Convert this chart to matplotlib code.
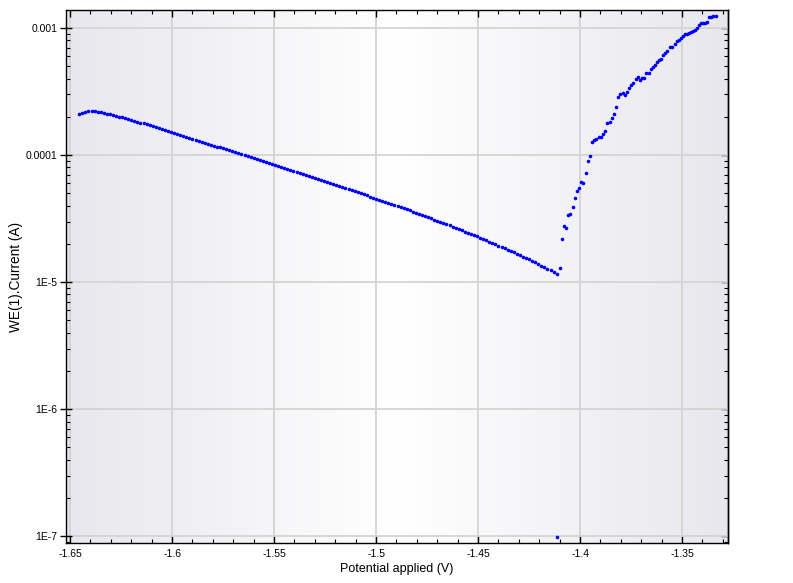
import numpy as np
import matplotlib
matplotlib.use("Agg")
import matplotlib.pyplot as plt
from matplotlib.ticker import FixedLocator, FixedFormatter, LogLocator, MultipleLocator, NullFormatter

# ---------------- data ----------------
cathodic_potential = [
    -1.6455, -1.6440, -1.6425, -1.6410, -1.6395, -1.6380, -1.6365, -1.6350, -1.6335, -1.6320,
    -1.6305, -1.6290, -1.6275, -1.6260, -1.6245, -1.6230, -1.6215, -1.6200, -1.6185, -1.6170,
    -1.6155, -1.6140, -1.6125, -1.6110, -1.6095, -1.6080, -1.6065, -1.6050, -1.6035, -1.6020,
    -1.6005, -1.5990, -1.5975, -1.5960, -1.5945, -1.5930, -1.5915, -1.5900, -1.5885, -1.5870,
    -1.5855, -1.5840, -1.5825, -1.5810, -1.5795, -1.5780, -1.5765, -1.5750, -1.5735, -1.5720,
    -1.5705, -1.5690, -1.5675, -1.5660, -1.5645, -1.5630, -1.5615, -1.5600, -1.5585, -1.5570,
    -1.5555, -1.5540, -1.5525, -1.5510, -1.5495, -1.5480, -1.5465, -1.5450, -1.5435, -1.5420,
    -1.5405, -1.5390, -1.5375, -1.5360, -1.5345, -1.5330, -1.5315, -1.5300, -1.5285, -1.5270,
    -1.5255, -1.5240, -1.5225, -1.5210, -1.5195, -1.5180, -1.5165, -1.5150, -1.5135, -1.5120,
    -1.5105, -1.5090, -1.5075, -1.5060, -1.5045, -1.5030, -1.5015, -1.5000, -1.4985, -1.4970,
    -1.4955, -1.4940, -1.4925, -1.4910, -1.4895, -1.4880, -1.4865, -1.4850, -1.4835, -1.4820,
    -1.4805, -1.4790, -1.4775, -1.4760, -1.4745, -1.4730, -1.4715, -1.4700, -1.4685, -1.4670,
    -1.4655, -1.4640, -1.4625, -1.4610, -1.4595, -1.4580, -1.4565, -1.4550, -1.4535, -1.4520,
    -1.4505, -1.4490, -1.4475, -1.4460, -1.4445, -1.4430, -1.4415, -1.4400, -1.4385, -1.4370,
    -1.4355, -1.4340, -1.4325, -1.4310, -1.4295, -1.4280, -1.4265, -1.4250, -1.4235, -1.4220,
    -1.4205, -1.4190, -1.4175, -1.4160, -1.4145, -1.4130, -1.4115,
]
cathodic_current = [
    2.113e-4, 2.158e-4, 2.193e-4, 2.213e-4, 2.218e-4, 2.208e-4, 2.193e-4, 2.173e-4, 2.148e-4, 2.118e-4,
    2.089e-4, 2.061e-4, 2.032e-4, 2.004e-4, 1.977e-4, 1.948e-4, 1.919e-4, 1.890e-4, 1.862e-4, 1.832e-4,
    1.803e-4, 1.774e-4, 1.746e-4, 1.718e-4, 1.690e-4, 1.661e-4, 1.633e-4, 1.605e-4, 1.578e-4, 1.550e-4,
    1.524e-4, 1.497e-4, 1.471e-4, 1.445e-4, 1.420e-4, 1.395e-4, 1.370e-4, 1.346e-4, 1.323e-4, 1.299e-4,
    1.277e-4, 1.254e-4, 1.232e-4, 1.210e-4, 1.189e-4, 1.168e-4, 1.148e-4, 1.128e-4, 1.108e-4, 1.088e-4,
    1.069e-4, 1.050e-4, 1.032e-4, 1.014e-4, 9.959e-5, 9.784e-5, 9.612e-5, 9.443e-5, 9.277e-5, 9.114e-5,
    8.954e-5, 8.797e-5, 8.642e-5, 8.490e-5, 8.356e-5, 8.204e-5, 8.054e-5, 7.907e-5, 7.763e-5, 7.621e-5,
    7.482e-5, 7.345e-5, 7.211e-5, 7.080e-5, 6.950e-5, 6.824e-5, 6.699e-5, 6.577e-5, 6.457e-5, 6.339e-5,
    6.223e-5, 6.110e-5, 5.998e-5, 5.889e-5, 5.781e-5, 5.676e-5, 5.572e-5, 5.470e-5, 5.371e-5, 5.273e-5,
    5.176e-5, 5.082e-5, 4.989e-5, 4.898e-5, 4.809e-5, 4.721e-5, 4.635e-5, 4.550e-5, 4.462e-5, 4.375e-5,
    4.291e-5, 4.207e-5, 4.126e-5, 4.046e-5, 3.968e-5, 3.891e-5, 3.815e-5, 3.741e-5, 3.669e-5, 3.594e-5,
    3.520e-5, 3.448e-5, 3.377e-5, 3.308e-5, 3.240e-5, 3.173e-5, 3.108e-5, 3.045e-5, 2.982e-5, 2.921e-5,
    2.857e-5, 2.795e-5, 2.733e-5, 2.674e-5, 2.615e-5, 2.558e-5, 2.502e-5, 2.447e-5, 2.394e-5, 2.342e-5,
    2.290e-5, 2.237e-5, 2.185e-5, 2.135e-5, 2.085e-5, 2.037e-5, 1.989e-5, 1.943e-5, 1.898e-5, 1.854e-5,
    1.807e-5, 1.761e-5, 1.716e-5, 1.672e-5, 1.630e-5, 1.588e-5, 1.548e-5, 1.508e-5, 1.470e-5, 1.428e-5,
    1.388e-5, 1.348e-5, 1.310e-5, 1.273e-5, 1.237e-5, 1.202e-5, 1.168e-5,
]
anodic_potential = [
    -1.4113, -1.4098,
    -1.4088, -1.4080, -1.4070, -1.4059, -1.4049, -1.4036, -1.4025, -1.4015, -1.4003, -1.3997,
    -1.3985, -1.3972, -1.3961, -1.3951, -1.3941, -1.3931, -1.3922, -1.3907, -1.3897, -1.3886,
    -1.3876, -1.3868, -1.3853, -1.3843, -1.3833, -1.3825, -1.3815, -1.3805, -1.3789, -1.3778,
    -1.3770, -1.3760, -1.3750, -1.3740, -1.3727, -1.3716, -1.3706, -1.3696, -1.3685, -1.3675,
    -1.3663, -1.3652, -1.3642, -1.3632, -1.3623, -1.3613, -1.3603, -1.3593, -1.3583, -1.3574,
    -1.3559, -1.3549, -1.3536, -1.3526, -1.3516, -1.3505, -1.3495, -1.3485, -1.3476, -1.3466,
    -1.3456, -1.3446, -1.3436, -1.3426, -1.3417, -1.3408, -1.3399, -1.3389, -1.3379, -1.3369,
    -1.3359, -1.3348, -1.3335,
]
anodic_current = [
    9.9e-8, 1.30e-5,
    2.20e-5, 2.78e-5, 2.69e-5, 3.38e-5, 3.46e-5, 3.93e-5, 4.60e-5, 5.24e-5, 5.51e-5, 6.17e-5,
    6.03e-5, 7.26e-5, 9.02e-5, 9.88e-5, 1.272e-4, 1.311e-4, 1.343e-4, 1.392e-4, 1.400e-4, 1.470e-4,
    1.552e-4, 1.784e-4, 1.836e-4, 1.953e-4, 2.10e-4, 2.395e-4, 2.87e-4, 3.03e-4, 3.09e-4, 2.98e-4,
    3.14e-4, 3.38e-4, 3.55e-4, 3.68e-4, 4.00e-4, 4.14e-4, 3.90e-4, 4.05e-4, 4.08e-4, 4.39e-4,
    4.46e-4, 4.74e-4, 4.94e-4, 5.12e-4, 5.38e-4, 5.58e-4, 5.66e-4, 6.10e-4, 6.42e-4, 6.60e-4,
    7.09e-4, 7.13e-4, 7.48e-4, 7.86e-4, 8.09e-4, 8.30e-4, 8.66e-4, 8.92e-4, 9.02e-4, 9.14e-4,
    9.25e-4, 9.42e-4, 9.70e-4, 1.006e-3, 1.050e-3, 1.089e-3, 1.100e-3, 1.089e-3, 1.121e-3, 1.214e-3,
    1.214e-3, 1.236e-3, 1.242e-3,
]

x_ticks = [-1.65, -1.6, -1.55, -1.5, -1.45, -1.4, -1.35]
x_tick_labels = ["-1.65", "-1.6", "-1.55", "-1.5", "-1.45", "-1.4", "-1.35"]
y_ticks = [1e-7, 1e-6, 1e-5, 1e-4, 1e-3]
y_tick_labels = ["1E-7", "1E-6", "1E-5", "0.0001", "0.001"]
x_label = "Potential applied (V)"
y_label = "WE(1).Current (A)"

# ---------------- figure ----------------
W, H = 793, 583
fig = plt.figure(figsize=(W / 100, H / 100), dpi=100)
plt.rcParams['font.family'] = ['Liberation Sans', 'DejaVu Sans']

left_px, right_px, top_px, bottom_px = 66, 728, 10, 543
pos = [left_px / W, 1 - bottom_px / H, (right_px - left_px) / W, (bottom_px - top_px) / H]

# background gradient
bg = fig.add_axes(pos, zorder=0)
n = 400
t = np.abs(np.linspace(-1, 1, n))
edge = np.array([231, 231, 237]) / 255.0
white = np.array([1.0, 1.0, 1.0])
grad = white[None, :] * (1 - t[:, None]) + edge[None, :] * t[:, None]
bg.imshow(grad[None, :, :], aspect='auto', extent=[0, 1, 0, 1])
bg.set_axis_off()

ax = fig.add_axes(pos, zorder=1)
ax.set_facecolor('none')
ax.set_yscale('log')
ax.set_xlim(-1.652, -1.3275)
ax.set_ylim(8.85e-8, 1.387e-3)

ax.grid(True, which='major', color='#d4d4d4', linewidth=1.3)
ax.set_axisbelow(True)

ax.plot(cathodic_potential, cathodic_current, linestyle='none', marker='o',
        markersize=2.6, markeredgewidth=0, color='#0000ff', zorder=3)
ax.plot(anodic_potential, anodic_current, linestyle='none', marker='o',
        markersize=2.6, markeredgewidth=0, color='#0000ff', zorder=3)

ax.xaxis.set_major_locator(FixedLocator(x_ticks))
ax.xaxis.set_major_formatter(FixedFormatter(x_tick_labels))
ax.xaxis.set_minor_locator(MultipleLocator(0.01))
ax.yaxis.set_major_locator(FixedLocator(y_ticks))
ax.yaxis.set_major_formatter(FixedFormatter(y_tick_labels))
ax.yaxis.set_minor_locator(LogLocator(base=10, subs=np.arange(2, 10), numticks=20))
ax.yaxis.set_minor_formatter(NullFormatter())

ax.tick_params(axis='both', which='both', direction='in', top=True, right=False,
               labelsize=7.5, colors='black')
ax.tick_params(axis='both', which='major', length=5, width=1.0)
ax.tick_params(axis='both', which='minor', length=3, width=0.8)
ax.tick_params(axis='y', which='major', direction='inout', length=8, left=True, pad=2)
ax.tick_params(axis='x', which='major', pad=4)

# right-side ticks pointing inward only
sec = ax.secondary_yaxis('right')
sec.yaxis.set_major_locator(FixedLocator(y_ticks))
sec.yaxis.set_major_formatter(NullFormatter())
sec.yaxis.set_minor_locator(LogLocator(base=10, subs=np.arange(2, 10), numticks=20))
sec.yaxis.set_minor_formatter(NullFormatter())
sec.tick_params(which='both', direction='in')
sec.tick_params(which='major', length=5, width=1.0)
sec.tick_params(which='minor', length=3, width=0.8)
sec.spines['right'].set_linewidth(1.0)

for s in ax.spines.values():
    s.set_linewidth(1.0)
    s.set_color('black')

ax.set_xlabel(x_label, fontsize=9, labelpad=3)
ax.set_ylabel(y_label, fontsize=9.8, labelpad=2)

fig.savefig('out.png', dpi=100)
